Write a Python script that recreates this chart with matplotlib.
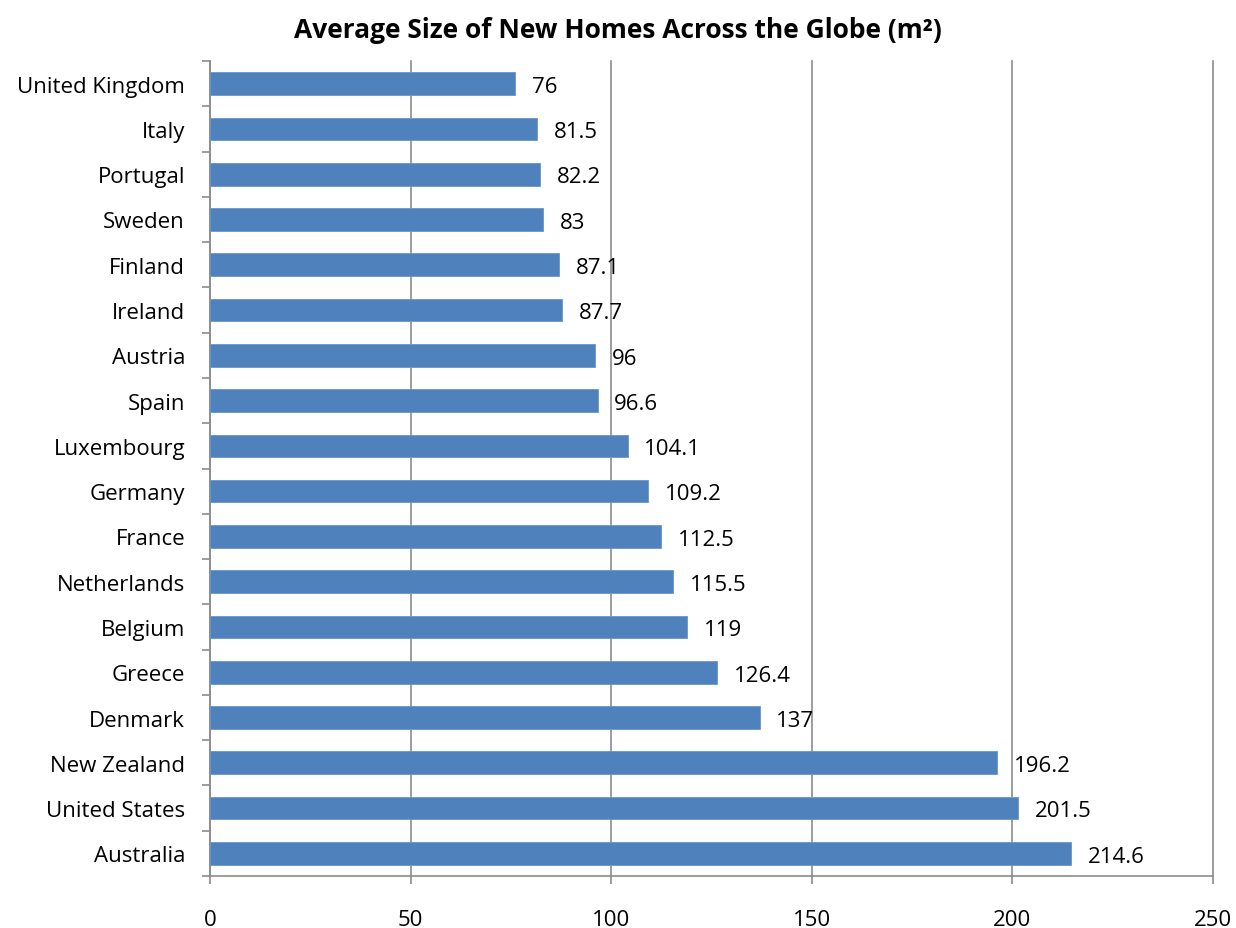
import matplotlib
matplotlib.use("Agg")
import matplotlib.pyplot as plt
import numpy as np

countries = ["United Kingdom", "Italy", "Portugal", "Sweden", "Finland", "Ireland",
             "Austria", "Spain", "Luxembourg", "Germany", "France", "Netherlands",
             "Belgium", "Greece", "Denmark", "New Zealand", "United States", "Australia"]
values = [76, 81.5, 82.2, 83, 87.1, 87.7, 96, 96.6, 104.1, 109.2, 112.5, 115.5,
          119, 126.4, 137, 196.2, 201.5, 214.6]
value_labels = ["76", "81.5", "82.2", "83", "87.1", "87.7", "96", "96.6", "104.1",
                "109.2", "112.5", "115.5", "119", "126.4", "137", "196.2", "201.5", "214.6"]
x_ticks = [0, 50, 100, 150, 200, 250]

plt.rcParams['font.family'] = ['Open Sans', 'DejaVu Sans']

fig = plt.figure(figsize=(12.36, 9.29), dpi=100)
ax = fig.add_axes([210/1236, 1-877/929, (1213-210)/1236, (877-62)/929])

n = len(countries)
ypos = np.arange(n)[::-1]  # first category at top
ax.barh(ypos, values, height=0.5, color="#4F81BD", edgecolor="#6A96CC", linewidth=0.6, zorder=3)

for y, v, lab in zip(ypos, values, value_labels):
    ax.annotate(lab, (v, y), xytext=(12, -2), textcoords="offset points",
                ha="left", va="center", fontsize=16, color="black", zorder=4)

ax.set_xlim(0, 250)
ax.set_ylim(-0.5, n - 0.5)
ax.set_xticks(x_ticks)
ax.set_xticklabels([str(t) for t in x_ticks], fontsize=16)
ax.xaxis.grid(True, color="#8C8C8C", linewidth=1.2, zorder=0)
for gl in ax.get_xgridlines():
    gl.set_clip_on(False)
ax.tick_params(axis="x", length=6, width=1.2, color="#8C8C8C", pad=18)

ax.set_yticks(ypos)
ax.set_yticklabels(countries, fontsize=16)
ax.tick_params(axis="y", which="major", length=0, pad=18)
ax.set_yticks(np.arange(-0.5, n, 1.0), minor=True)
ax.tick_params(axis="y", which="minor", length=6, width=1.2, color="#8C8C8C")

for s in ["top", "right"]:
    ax.spines[s].set_visible(False)
for s in ["left", "bottom"]:
    ax.spines[s].set_color("#8C8C8C")
    ax.spines[s].set_linewidth(1.2)

fig.text(0.5, 1 - 30/929, "Average Size of New Homes Across the Globe (m²)",
         ha="center", va="center", fontsize=19, fontweight="bold")

fig.savefig("out.png", dpi=100)
